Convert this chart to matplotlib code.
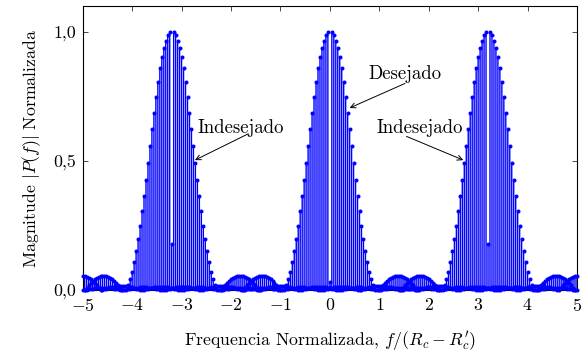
import numpy as np
import matplotlib
matplotlib.use("Agg")
import matplotlib.pyplot as plt

plt.rcParams["font.family"] = ["cmr10", "DejaVu Serif"]
plt.rcParams["mathtext.fontset"] = "cm"
plt.rcParams["axes.formatter.use_mathtext"] = True

# sample step of the spectrum (normalised frequency)
STEP = 0.04

# main lobes: centre frequency and value of the centre sample (notch)
lobe_centres = [-3.2, 0.0, 3.2]
notch_values = [0.18, 0.03, 0.18]
# one half of a main lobe, samples at STEP, 2*STEP, ... from the centre
lobe_half = [0.998, 0.986, 0.966, 0.938, 0.902, 0.858, 0.806, 0.748, 0.686,
             0.622, 0.556, 0.490, 0.426, 0.364, 0.305, 0.249, 0.197, 0.150,
             0.108, 0.071, 0.042, 0.020]

# side lobes: every lobe (also the aliases at +-6.4) has arcs on both sides
arc_centres = [-6.4, -3.2, 0.0, 3.2, 6.4]
arc_shape = [0.00, 0.16, 0.32, 0.47, 0.61, 0.73, 0.84, 0.92, 0.97, 1.00,
             1.00, 0.97, 0.92, 0.84, 0.73, 0.61, 0.47, 0.32, 0.16, 0.00]
arc_peaks = [0.056, 0.016, 0.012, 0.010, 0.008]
ARC_START = 1.0
ARC_PITCH = 0.8

xticks = [-5, -4, -3, -2, -1, 0, 1, 2, 3, 4, 5]
yticks = [0.0, 0.5, 1.0]
ytick_labels = ["0,0", "0,5", "1,0"]

BLUE = (0.0, 0.0, 1.0)
FS = 12.8
FS_NOTE = 13.5


def stems(ax, x, y):
    x = np.round(np.asarray(x), 6)
    y = np.asarray(y)
    keep = (x >= -5.0) & (x <= 5.0)
    x, y = x[keep], y[keep]
    if len(x) == 0:
        return
    lc = ax.vlines(x, 0, y, colors=[BLUE], linewidth=1.0)
    lc.set_snap(False)
    ax.plot(x, y, "o", color=BLUE, markersize=2.9, markeredgewidth=0,
            clip_on=False, zorder=3)


fig = plt.figure(figsize=(5.85, 3.54), dpi=100)
ax = fig.add_axes([0.1414, 0.1808, 0.8449, 0.8023])

# side lobe arcs first, main lobes on top
n_arc = len(arc_shape)
for c in arc_centres:
    for j, peak in enumerate(arc_peaks):
        start = ARC_START + j * ARC_PITCH
        offs = start + STEP * np.arange(n_arc)
        vals = [peak * s for s in arc_shape]
        stems(ax, c + offs, vals)
        stems(ax, c - offs, vals)

n_half = len(lobe_half)
for c, notch in zip(lobe_centres, notch_values):
    offs = STEP * np.arange(-n_half, n_half + 1)
    vals = lobe_half[::-1] + [notch] + lobe_half
    stems(ax, c + offs, vals)

ax.set_xlim(-5, 5)
ax.set_ylim(0, 1.1)
ax.set_xticks(xticks)
ax.set_xticklabels([rf"${t}$" for t in xticks])
ax.set_yticks(yticks)
ax.set_yticklabels(ytick_labels)
ax.tick_params(direction="in", top=True, right=True, length=3.5, width=0.5,
               labelsize=FS, pad=5)
for s in ax.spines.values():
    s.set_linewidth(0.8)

ax.set_xlabel(r"Frequencia Normalizada, $f/(R_c-R^{\prime}_c)$", fontsize=FS,
              labelpad=11)
ax.set_ylabel(r"Magnitude $|P(f)|$ Normalizada", fontsize=FS, labelpad=7)

arrow = dict(arrowstyle="->", lw=0.7, color="black", shrinkA=0, shrinkB=0,
             mutation_scale=9)
ax.text(1.52, 0.835, "Desejado", ha="center", va="center", fontsize=FS_NOTE)
ax.annotate("", xy=(0.40, 0.705), xytext=(1.52, 0.80), arrowprops=arrow)
ax.text(-1.80, 0.629, "Indesejado", ha="center", va="center", fontsize=FS_NOTE)
ax.annotate("", xy=(-2.73, 0.503), xytext=(-1.65, 0.605), arrowprops=arrow)
ax.text(1.82, 0.629, "Indesejado", ha="center", va="center", fontsize=FS_NOTE)
ax.annotate("", xy=(2.70, 0.503), xytext=(1.55, 0.595), arrowprops=arrow)

fig.savefig("out.png", dpi=100)
